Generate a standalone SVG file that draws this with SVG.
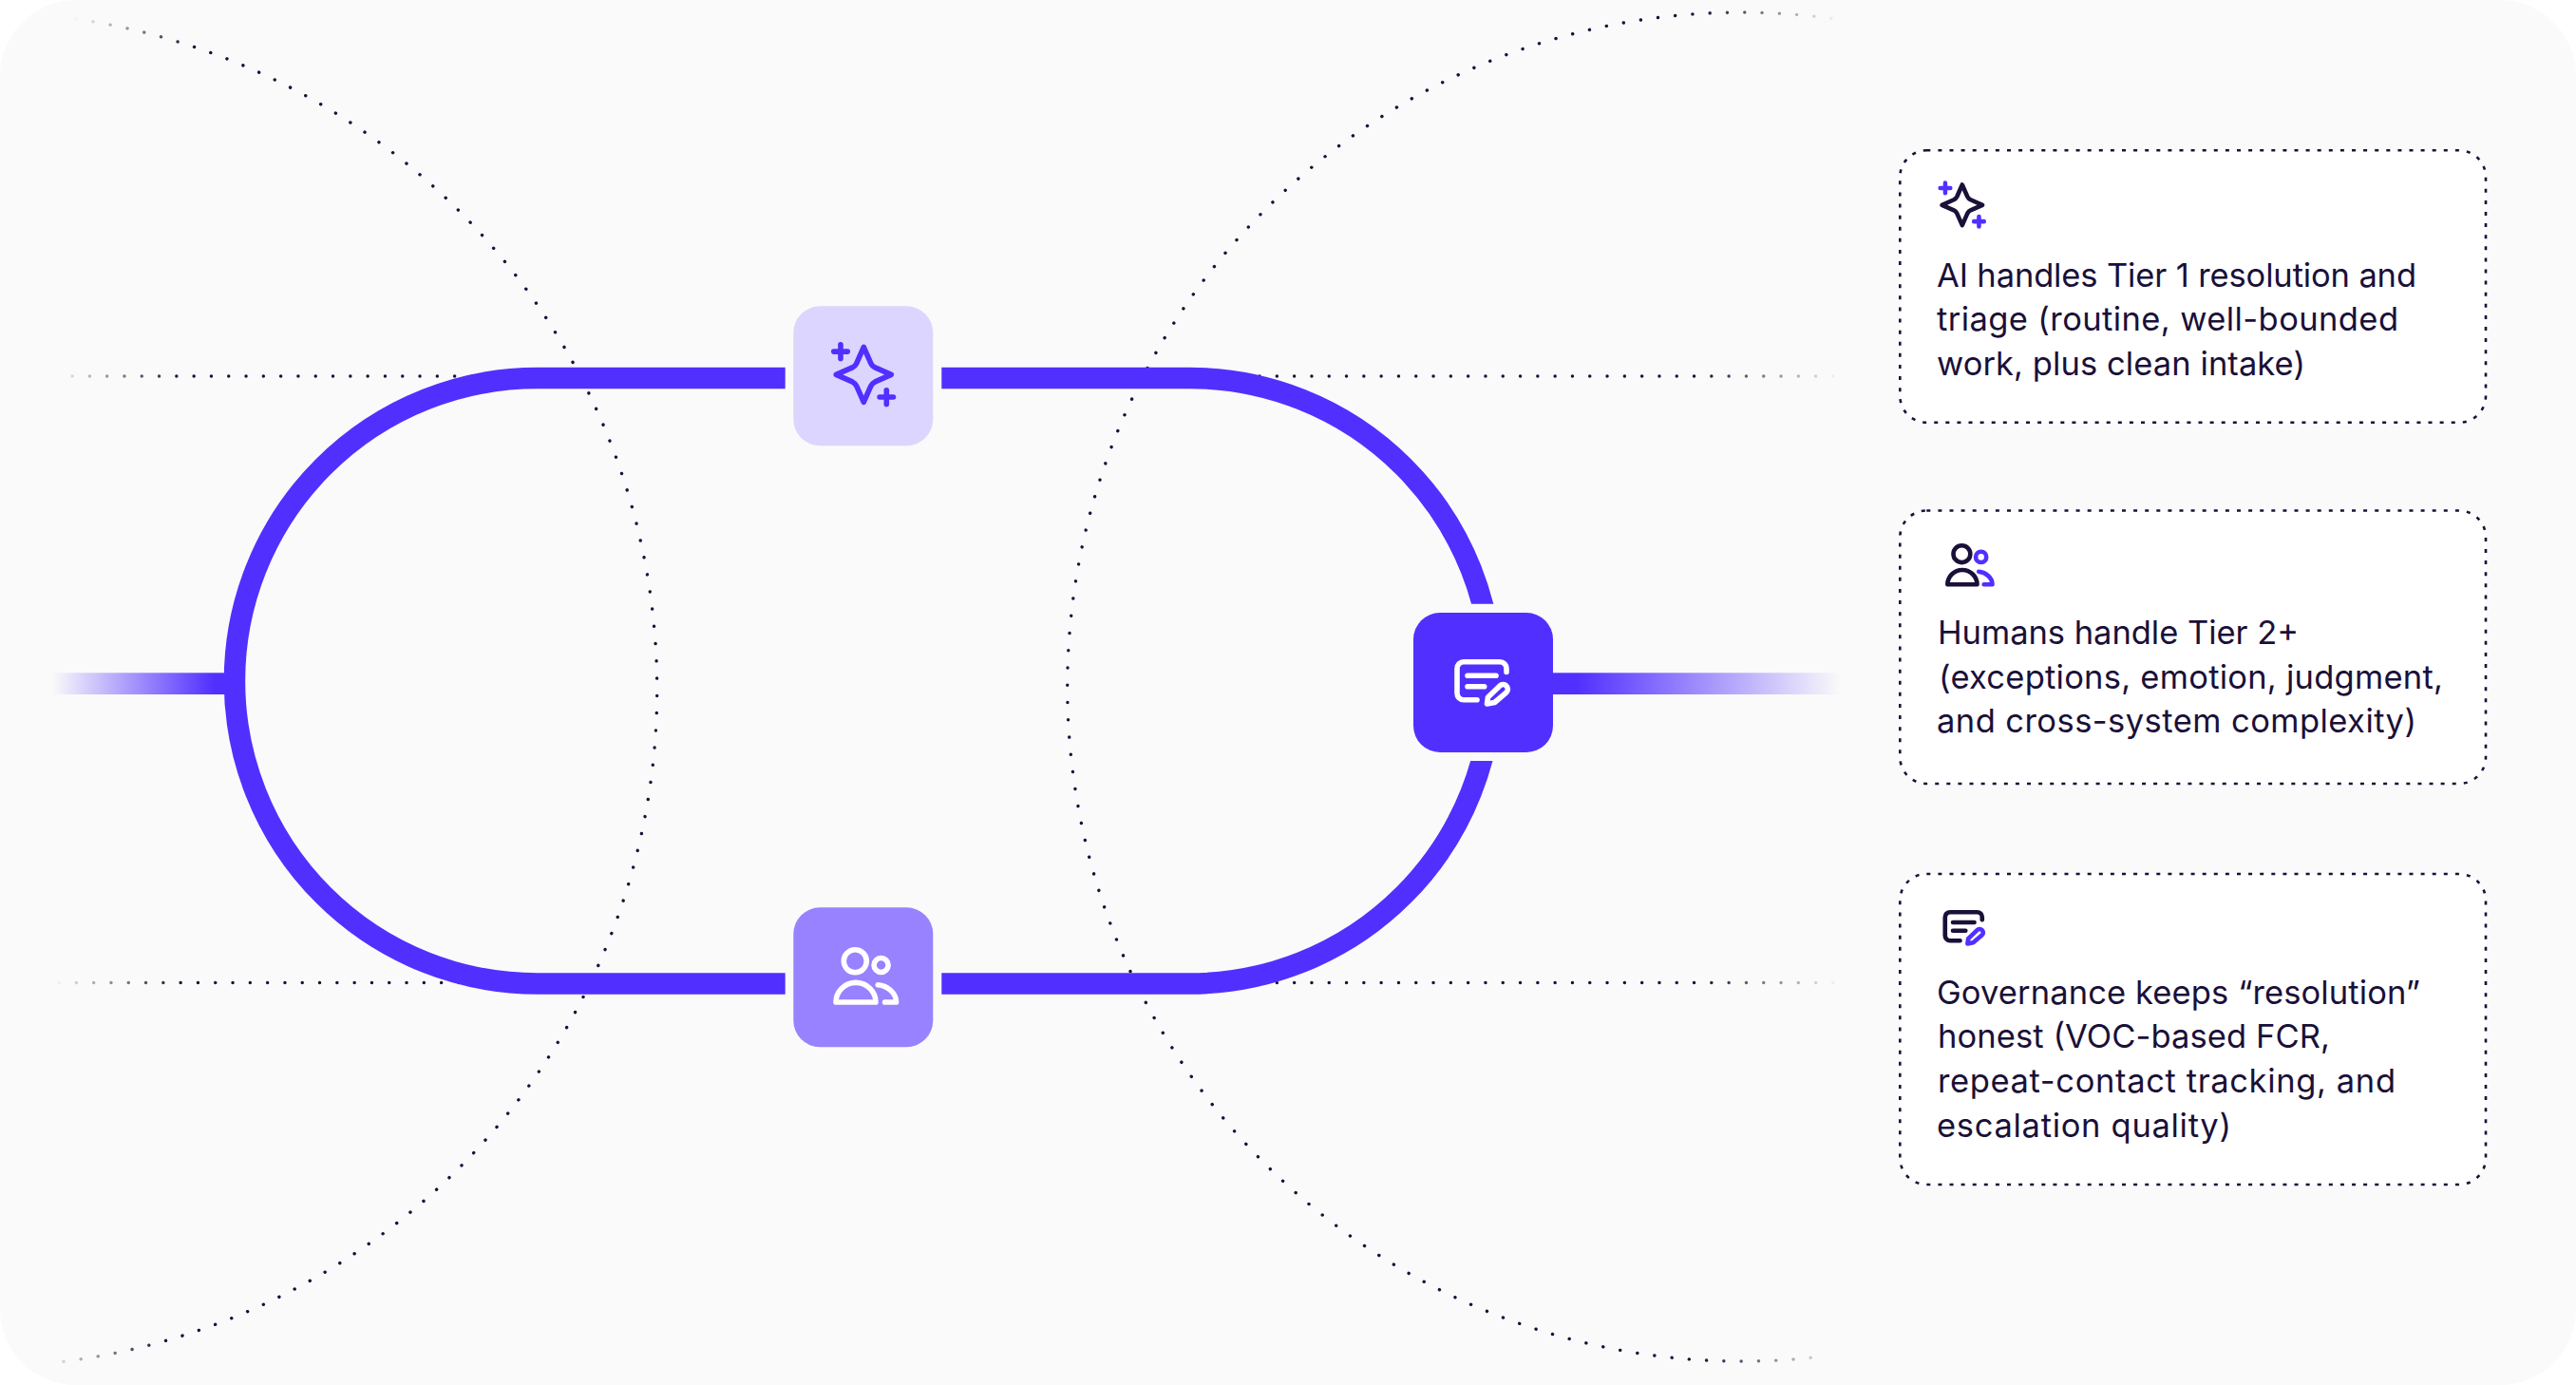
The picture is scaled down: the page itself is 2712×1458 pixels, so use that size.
<svg xmlns="http://www.w3.org/2000/svg" width="2712" height="1458" viewBox="0 0 2712 1458">
<style>
.dot{fill:none;stroke-width:3.4;stroke-linecap:round;stroke-dasharray:0.1 18.2}
.card{fill:#fff;stroke:#1a1038;stroke-width:2.6;stroke-dasharray:4 8.1}
.t{font-family:"Inter","Noto Sans","Liberation Sans",sans-serif;font-size:34.5px;font-weight:400;fill:#1a1038}
.ic{fill:none;stroke-width:5.6;stroke-linecap:round;stroke-linejoin:round}
.s{stroke-width:6.2}
.p{stroke:#5130ff}.w{stroke:#fff}.k{stroke:#1a1038}
</style>
<defs>
<linearGradient id="fadeC" gradientUnits="userSpaceOnUse" x1="44" y1="1435" x2="174" y2="1438"><stop offset="0" stop-color="#1a1038" stop-opacity="0"/><stop offset="1" stop-color="#1a1038"/></linearGradient>
<linearGradient id="fadeL" gradientUnits="userSpaceOnUse" x1="55" y1="0" x2="190" y2="0"><stop offset="0" stop-color="#1a1038" stop-opacity="0"/><stop offset="1" stop-color="#1a1038"/></linearGradient>
<linearGradient id="fadeR" gradientUnits="userSpaceOnUse" x1="1938" y1="0" x2="1790" y2="0"><stop offset="0" stop-color="#1a1038" stop-opacity="0"/><stop offset="1" stop-color="#1a1038"/></linearGradient>
<linearGradient id="stubL" gradientUnits="userSpaceOnUse" x1="55" y1="0" x2="225" y2="0"><stop offset="0" stop-color="#5130ff" stop-opacity="0"/><stop offset="1" stop-color="#5130ff"/></linearGradient>
<linearGradient id="stubR" gradientUnits="userSpaceOnUse" x1="1938" y1="0" x2="1660" y2="0"><stop offset="0" stop-color="#5130ff" stop-opacity="0"/><stop offset="1" stop-color="#5130ff"/></linearGradient>
<clipPath id="gaps"><rect x="0" y="0" width="826.7" height="1458"/><rect x="991.3" y="0" width="1720" height="635.7"/><rect x="991.3" y="801" width="1720" height="657"/></clipPath>
<g id="star"><path d="M0-29L7.5-12Q9-9 12-7.5L29 0L12 7.5Q9 9 7.5 12L0 29L-7.5 12Q-9 9-12 7.5L-29 0L-12-7.5Q-9-9-7.5-12Z"/></g>
<path id="plusA" d="M-24.3-31.5V-17M-31.5-24.3H-17"/>
<path id="plusB" d="M24 16.5V31M16.8 23.6H31.2"/>
<g id="peopleA"><circle cx="-8.5" cy="-17" r="12"/><path d="M-28.8 26.3a21 20.6 0 0 1 42 0Z"/></g>
<g id="peopleB"><circle cx="18.8" cy="-12.7" r="7.5"/><path d="M15.5 8C26 9 34.8 17 34.8 26.3L22.8 26.3"/></g>
<path id="docA" d="M24.5-11V-14.7a7 7 0 0 0-7-7H-20.5a7 7 0 0 0-7 7V11.3a7 7 0 0 0 7 7H-6.5M-16.5-7.3H13.5M-16.5 4.3H1.2"/>
<path id="docB" d="M4 22.5L5 15.5L17.5 3.5a4.6 4.6 0 0 1 7 6.8L12 21Z"/>
</defs>
<rect width="2712" height="1458" fill="#fff"/>
<rect id="panel" width="2712" height="1458" rx="80" fill="#fafafa"/>
<g id="guides">
<path class="dot" stroke="url(#fadeC)" d="M80 20A713 713 0 0 1 52 1435"/>
<path class="dot" stroke="url(#fadeR)" d="M1928 19.300A710 710 0 1 0 1911 1428.800"/>
<path class="dot" stroke="url(#fadeL)" d="M76 396H560"/>
<path class="dot" stroke="url(#fadeL)" d="M62 1034.500H560"/>
<path class="dot" stroke="url(#fadeR)" d="M1930 396H1260"/>
<path class="dot" stroke="url(#fadeR)" d="M1930 1034.500H1260"/>
</g>
<g id="connectors">
<rect x="50" y="708.300" width="190" height="22.700" fill="url(#stubL)"/>
<rect x="1630" y="708.300" width="310" height="22.700" fill="url(#stubR)"/>
<path clip-path="url(#gaps)" fill="none" stroke="#5130ff" stroke-width="22.500" d="M565.700 398H1252.400A318.750 318.750 0 0 1 1252.400 1035.500H565.700A318.750 318.750 0 0 1 565.700 398Z"/>
</g>
<g id="node-ai">
<rect x="835.300" y="322.300" width="147" height="147" rx="28" fill="#dcd5ff"/>
<g transform="translate(909.300 394.400)" class="ic p"><use href="#star"/><use href="#plusA"/><use href="#plusB"/></g>
</g>
<g id="node-humans">
<rect x="835.300" y="955.300" width="147" height="147" rx="28" fill="#9882ff"/>
<g transform="translate(908.800 1028.700)" class="ic w"><use href="#peopleA"/><use href="#peopleB"/></g>
</g>
<g id="node-governance">
<rect x="1488" y="645" width="147" height="147" rx="28" fill="#5130ff"/>
<g transform="translate(1561.500 718.500)" class="ic w"><use href="#docA"/><use href="#docB"/></g>
</g>
<g id="card-ai">
<rect class="card" x="2000.300" y="158.300" width="616.700" height="286.500" rx="28"/>
<g transform="translate(2065.800 215.800) scale(.735)" class="ic s k"><use href="#star"/></g>
<g transform="translate(2065.800 215.800) scale(.735)" class="ic s p"><use href="#plusA"/><use href="#plusB"/></g>
<text class="t" x="2039" y="301.700" textLength="505">AI handles Tier 1 resolution and</text>
<text class="t" x="2039" y="348.300" textLength="486">triage (routine, well-bounded</text>
<text class="t" x="2039" y="395" textLength="388">work, plus clean intake)</text>
</g>
<g id="card-humans">
<rect class="card" x="2000.300" y="537.500" width="616.700" height="287.500" rx="28"/>
<g transform="translate(2071.700 595.800) scale(.742)" class="ic s k"><use href="#peopleA"/></g>
<g transform="translate(2071.700 595.800) scale(.742)" class="ic s p"><use href="#peopleB"/></g>
<text class="t" x="2040" y="678" textLength="380">Humans handle Tier 2+</text>
<text class="t" x="2041" y="724.700" textLength="531">(exceptions, emotion, judgment,</text>
<text class="t" x="2039" y="771.300" textLength="505">and cross-system complexity)</text>
</g>
<g id="card-governance">
<rect class="card" x="2000.300" y="920" width="616.700" height="327" rx="28"/>
<g transform="translate(2068.400 976.500) scale(.75)" class="ic s k"><use href="#docA"/></g>
<g transform="translate(2068.400 976.500) scale(.75)" class="ic s p"><use href="#docB"/></g>
<text class="t" x="2039" y="1056.700" textLength="509">Governance keeps “resolution”</text>
<text class="t" x="2040" y="1103.300" textLength="413">honest (VOC-based FCR,</text>
<text class="t" x="2040" y="1150" textLength="482">repeat-contact tracking, and</text>
<text class="t" x="2039" y="1196.700" textLength="310">escalation quality)</text>
</g>
</svg>
